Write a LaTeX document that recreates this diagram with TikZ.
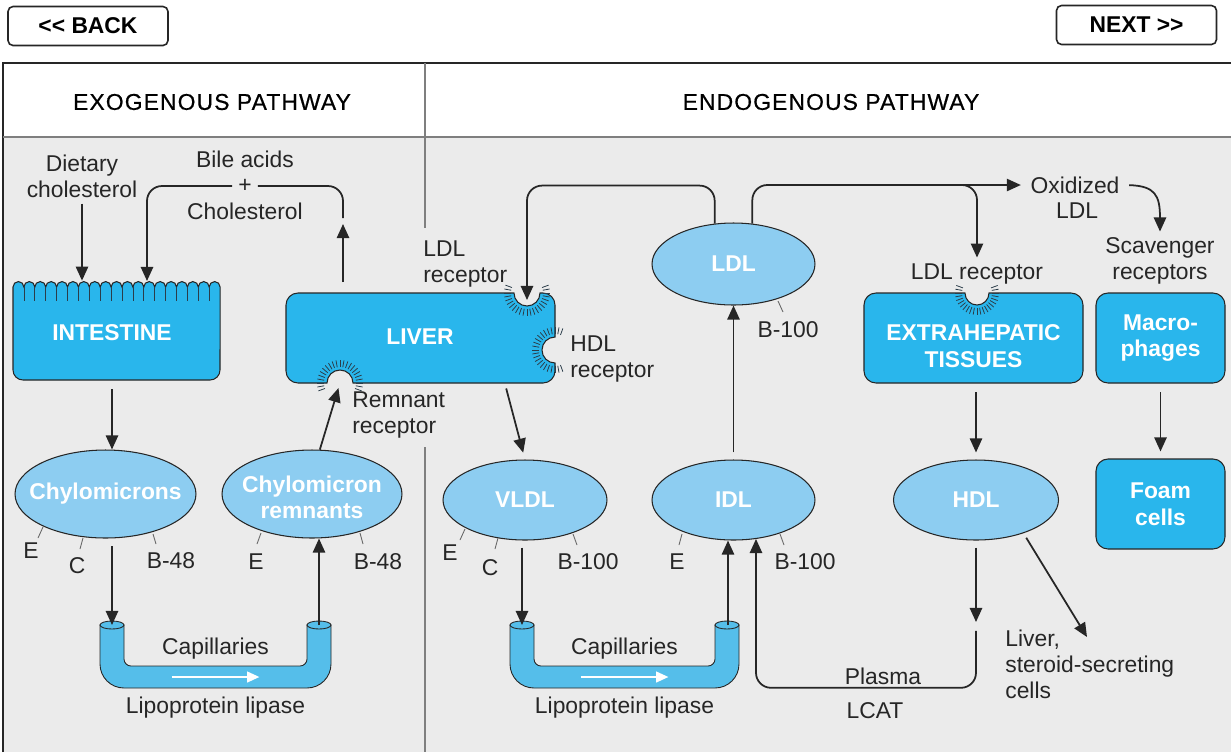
\documentclass[tikz,border=0pt]{standalone}
\usepackage{fontspec}
\setmainfont{Liberation Sans}
\newfontfamily\headfont[LetterSpace=5, FakeBold=0.6]{Liberation Sans}
\usetikzlibrary{arrows.meta,shapes.geometric}

\definecolor{ink}{HTML}{262626}
\definecolor{panel}{HTML}{EBEBEB}
\definecolor{divider}{HTML}{7F7F7F}
\definecolor{organfill}{HTML}{29B6EC}
\definecolor{lipofill}{HTML}{8DCDF1}
\definecolor{tubefill}{HTML}{55BEEA}
\definecolor{hairline}{HTML}{2B3D4A}

\tikzset{
  every node/.style={font=\fontsize{13}{14.7}\selectfont, text=ink},
  arr/.style={draw=ink, line width=1pt, -{Triangle[length=8pt,width=7pt]}},
  conn/.style={draw=ink, line width=1pt},
  organ/.style={draw=ink, line width=0.6pt, fill=organfill},
  organbox/.style={organ, rounded corners=0.24cm, minimum width=2.58cm, minimum height=1.8cm},
  organtxt/.style={text=white, font=\fontsize{13}{15.3}\selectfont\bfseries, align=center, inner sep=0pt},
  lipo/.style={ellipse, draw=ink, line width=0.6pt, fill=lipofill, inner sep=0pt, minimum width=3.28cm, minimum height=1.6cm},
  lipotxt/.style={text=white, font=\fontsize{13}{14.7}\selectfont\bfseries, align=center},
  apo/.style={draw=ink!70, line width=0.5pt},
  hair/.style={draw=hairline, line width=0.45pt},
  tube/.style={draw=ink, line width=0.5pt, fill=tubefill},
  button/.style={draw=ink, line width=0.9pt, fill=white, rounded corners=0.1cm, minimum width=3.2cm, minimum height=0.78cm, font=\fontsize{13}{14}\selectfont\bfseries, text=black},
  title/.style={font=\headfont\fontsize{13}{15}\selectfont, text=black}
}

\begin{document}
\begin{tikzpicture}[x=0.02cm, y=-0.02cm]
	\useasboundingbox (0,0) rectangle (1231,752);
	\fill[white] (0,0) rectangle (1231,752);
	\fill[panel] (3,137) rectangle (1231,752);%body
	\draw[ink, line width=0.8pt] (3,752) -- (3,63) -- (1231,63);%frame
	\draw[divider, line width=1.3pt] (3,137) -- (1231,137);%header rule
	\draw[divider, line width=1.3pt] (425,63) -- (425,228);%column rule
	\draw[divider, line width=1.3pt] (425,447) -- (425,752);

	\node[button] (back) at (88,26) {\textless\kern0pt\textless\ BACK};
	\node[button] (next) at (1136.5,25) {NEXT \textgreater\kern0pt\textgreater};
	\node[title] (exo) at (212,102) {EXOGENOUS PATHWAY};
	\node[title] (endo) at (831,102) {ENDOGENOUS PATHWAY};

	% intestine with villi
	\filldraw[organ] (13,287) \foreach \i in {1,...,19} {arc (180:360:5.45)} -- (220,370) arc (0:90:10) -- (23,380) arc (90:180:10) -- cycle;
	\foreach \i in {1,...,18} \draw[hair] ({13+10.9*\i},287) -- ++(0,14);
	\node[minimum width=4.14cm, minimum height=1.98cm, inner sep=0pt] (intestine) at (116.5,330.5) {};
	\node[organtxt] (intestine-lbl) at (112,333) {INTESTINE};

	% liver with three receptor notches
	\filldraw[organ] (286,305) arc (180:270:12) -- (514,293) arc (180:0:13) -- (543,293) arc (270:360:12)
		-- (555,337) arc (270:90:13) -- (555,371) arc (0:90:12) -- (353,383) arc (0:-180:13)
		-- (298,383) arc (90:180:12) -- cycle;
	\foreach \a in {-20,-10,...,200} \draw[hair, shift={(527,293)}] (\a:16) -- (\a:23);%LDL receptor
	\foreach \a in {70,80,...,290} \draw[hair, shift={(555,350)}] (\a:16) -- (\a:23);%HDL receptor
	\foreach \a in {160,170,...,380} \draw[hair, shift={(340,383)}] (\a:16) -- (\a:23);%remnant receptor
	\node[minimum width=5.38cm, minimum height=1.8cm, inner sep=0pt] (liver) at (420.5,338) {};
	\node[organtxt] (liver-lbl) at (420,337) {LIVER};
	\coordinate (ldlrec) at (527,293);
	\coordinate (remrec) at (340,383);

	% extrahepatic tissues
	\filldraw[organ] (864,305) arc (180:270:12) -- (965,293) arc (180:0:12) -- (1071,293) arc (270:360:12)
		-- (1083,371) arc (0:90:12) -- (876,383) arc (90:180:12) -- cycle;
	\foreach \a in {-20,-10,...,200} \draw[hair, shift={(977,293)}] (\a:15) -- (\a:22);
	\node[minimum width=4.38cm, minimum height=1.8cm, inner sep=0pt] (extra) at (973.5,338) {};
	\node[organtxt] (extra-lbl) at (973.5,346) {EXTRAHEPATIC\\TISSUES};

	\node[organbox, organtxt] (macro) at (1160.5,338) {Macro-\\phages};
	\node[organbox, organtxt] (foam) at (1160.5,504) {Foam\\cells};

	% lipoproteins
	\node[lipo, minimum width=3.62cm, minimum height=1.76cm] (chylo) at (105.5,494) {};
	\node[lipotxt] (chylo-lbl) at (chylo) {Chylomicrons};
	\node[lipo, minimum width=3.6cm, minimum height=1.76cm] (remn) at (312,494) {};
	\node[lipotxt] (remn-lbl) at (312,497) {Chylomicron\\remnants};
	\node[lipo] (vldl) at (525,500) {};
	\node[lipotxt] (vldl-lbl) at (vldl) {VLDL};
	\node[lipo, minimum width=3.26cm] (idl) at (733.5,500) {};
	\node[lipotxt] (idl-lbl) at (idl) {IDL};
	\node[lipo, minimum width=3.26cm, minimum height=1.64cm] (ldl) at (733.5,264) {};
	\node[lipotxt] (ldl-lbl) at (ldl) {LDL};
	\node[lipo, minimum width=3.3cm] (hdl) at (976,500) {};
	\node[lipotxt] (hdl-lbl) at (hdl) {HDL};

	% apoproteins
	\draw[apo] (43,527) -- (38,538);  \node (chylo-e) at (31,551) {E};
	\draw[apo] (83,538) -- (80,549);  \node (chylo-c) at (77,566) {C};
	\draw[apo] (153,534) -- (156,544); \node (chylo-b) at (171,561) {B-48};
	\draw[apo] (261,533) -- (257,544); \node (remn-e) at (256,562) {E};
	\draw[apo] (360,533) -- (363,544); \node (remn-b) at (378,562) {B-48};
	\draw[apo] (465,529) -- (460,540); \node (vldl-e) at (450,553) {E};
	\draw[apo] (498,538) -- (495,549); \node (vldl-c) at (490,568) {C};
	\draw[apo] (573,534) -- (577,545); \node (vldl-b) at (588,562) {B-100};
	\draw[apo] (682,534) -- (679,545); \node (idl-e) at (677,562) {E};
	\draw[apo] (780,534) -- (784,545); \node (idl-b) at (805,562) {B-100};
	\draw[apo] (778,301) -- (783,312); \node (ldl-b) at (788,330) {B-100};

	% capillaries
	\foreach \l/\r/\n in {100/331/A, 510/739/B} {
		\pgfmathsetmacro\m{(\l+\r)/2}
		\filldraw[tube] (\l,625) -- (\l,664) arc (180:90:24) -- ({\r-24},688) arc (90:0:24) -- (\r,625)
			-- ({\r-24},625) -- ({\r-24},659) arc (0:90:7) -- ({\l+31},666) arc (90:180:7) -- ({\l+24},625) -- cycle;
		\filldraw[tube] ({\l+12},625) ellipse [x radius=12, y radius=4];
		\filldraw[tube] ({\r-12},625) ellipse [x radius=12, y radius=4];
		\draw[white, line width=1.3pt, -{Triangle[length=7pt,width=6pt]}] ({\m-44},677) -- ({\m+44},677);
		\node (cap-\n) at (\m,649) {Capillaries};
		\node (lpl-\n) at (\m,708) {Lipoprotein lipase};
	}
	\coordinate (capA-in) at (112,625);
	\coordinate (capA-out) at (319,625);
	\coordinate (capB-in) at (522,625);
	\coordinate (capB-out) at (728,625);

	% free labels
	\node[align=center] (diet) at (82,176) {Dietary\\cholesterol};
	\node (bile) at (245,159) {Bile acids};
	\node (plus) at (245,186) {+};
	\node (chol) at (245,211) {Cholesterol};
	\node[align=left, anchor=west, inner sep=0pt] (ldlrec-lbl) at (423,264) {LDL\\receptor};
	\node[align=left, anchor=west, inner sep=0pt] (hdlrec-lbl) at (570,359) {HDL\\receptor};
	\node[align=left, anchor=west, inner sep=0pt] (remrec-lbl) at (352,415) {Remnant\\receptor};
	\node (exrec-lbl) at (977,274) {LDL receptor};
	\node[align=center] (scav) at (1160,261) {Scavenger\\receptors};
	\node (oxldl) at (1075,185) {Oxidized};
	\node (oxldl2) at (1077,211) {LDL};
	\node (plasma) at (883,676) {Plasma};
	\node (lcat-lbl) at (875,711) {LCAT};
	\node[align=left, anchor=west, inner sep=0pt] (steroid) at (1005,664) {Liver,\\steroid-secreting\\cells};
	\coordinate (villi-in) at (147,281);
	\coordinate (bile-in) at (343,218);
	\coordinate (bile-up) at (343,224);
	\coordinate (lcat) at (976,622);
	\coordinate (steroid-in) at (1087,637);

	% exogenous arrows
	\draw[arr] (diet.south) -- (diet.south |- intestine.north);
	\draw[arr, rounded corners=0.3cm] (plus.west) -| (villi-in);
	\draw[conn, rounded corners=0.3cm] (plus.east) -| (bile-in);
	\draw[arr, shorten <=6pt] (liver.north -| bile-up) -- (bile-up);
	\draw[arr, shorten <=5pt] (intestine.south -| capA-in) -- (chylo.north -| capA-in);
	\draw[arr, shorten <=4.5pt] (chylo.south -| capA-in) -- (capA-in);
	\draw[arr] (capA-out) -- (capA-out |- remn.south);
	\draw[arr, shorten >=3pt] (remn.80) -- (remrec);

	% endogenous arrows
	\draw[arr, shorten <=3pt, shorten >=4pt] ([xshift=48pt]liver.south) -- (vldl.north);
	\draw[arr, shorten <=4pt] (vldl.south -| capB-in) -- (capB-in);
	\draw[arr] (capB-out) -- (capB-out |- idl.south);
	\draw[arr, shorten <=4pt] (idl.north) -- (ldl.south);
	\draw[arr, rounded corners=0.3cm] (ldl.115) -- ++(0,-38) -| ([yshift=-4pt]ldlrec);
	\draw[arr, rounded corners=0.3cm, shorten >=2pt] (ldl.65) |- (oxldl.west);
	\draw[arr, rounded corners=0.3cm] ([xshift=-17pt]exrec-lbl.north |- oxldl.west) -| (exrec-lbl.north);
	\draw[arr, shorten <=2pt] (oxldl.east) .. controls (1155,186) and (1160,195) .. (scav.north);
	\draw[arr, shorten <=5pt, shorten >=4pt] (extra.south -| hdl.north) -- (hdl.north);
	\draw[arr, shorten <=5pt, shorten >=4pt] (macro) -- (foam);
	\draw[arr, shorten <=4pt] (hdl.south) -- (lcat);
	\draw[arr, rounded corners=0.3cm] ([yshift=-5pt]lcat) -- ++(0,57) -| (idl.-60);
	\draw[arr, shorten <=3pt] (hdl.-35) -- (steroid-in);
\end{tikzpicture}
\end{document}
